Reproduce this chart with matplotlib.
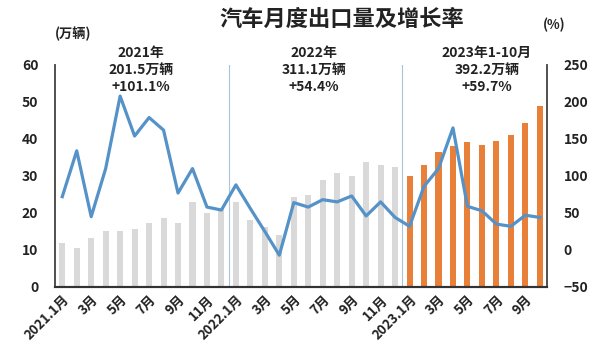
import matplotlib.pyplot as plt
import numpy as np

plt.rcParams['font.family'] = ['Noto Sans CJK SC', 'DejaVu Sans']
plt.rcParams['font.weight'] = 'bold'

# monthly exports (10k vehicles) and year-on-year growth (%)
vol_2021 = [12.0, 10.5, 13.2, 15.1, 15.1, 15.8, 17.4, 18.6, 17.2, 23.1, 20.0, 21.0]
vol_2022 = [23.1, 18.1, 16.3, 14.1, 24.4, 24.9, 28.9, 30.7, 30.1, 33.7, 33.0, 32.3]
vol_2023 = [30.1, 32.9, 36.4, 38.0, 39.2, 38.4, 39.4, 41.0, 44.4, 49.0]
growth = [72, 134, 45, 110, 208, 154, 179, 162, 77, 110, 58, 54,
          88, 56, 25, -7, 64, 58, 68, 65, 73, 46, 65, 44,
          32, 86, 110, 165, 59, 53, 35, 32, 47, 44]
tick_labels = ['2021.1月', '3月', '5月', '7月', '9月', '11月',
               '2022.1月', '3月', '5月', '7月', '9月', '11月',
               '2023.1月', '3月', '5月', '7月', '9月']
notes = [('2021年\n201.5万辆\n+101.1%', 5.45),
         ('2022年\n311.1万辆\n+54.4%', 17.4),
         ('2023年1-10月\n392.2万辆\n+59.7%', 29.35)]

vols = vol_2021 + vol_2022 + vol_2023
x = np.arange(len(vols))
n_old = len(vol_2021) + len(vol_2022)
colors = ['#d9d9d9'] * n_old + ['#e8803a'] * len(vol_2023)

fig = plt.figure(figsize=(6, 3.54), dpi=100)
ax = fig.add_axes([0.0917, 0.1893, 0.82, 0.6271])
ax.bar(x, vols, width=0.42, color=colors, zorder=2)
ax.set_xlim(-0.5, len(vols) - 0.5)
ax.set_ylim(0, 60)
ax.set_yticks(range(0, 61, 10))
ax.axvline(11.5, color='#a9c4d8', lw=0.8, zorder=1)
ax.axvline(23.5, color='#a9c4d8', lw=0.8, zorder=1)

ax2 = ax.twinx()
ax2.plot(x, growth, color='#5592c8', lw=2.3, zorder=3)
ax2.set_ylim(-50, 250)
ax2.set_yticks(range(-50, 251, 50))

ax.set_xticks(x[::2])
ax.set_xticklabels(tick_labels, rotation=45, ha='right', va='top',
                   rotation_mode='anchor', fontsize=9.5, color='#222222',
                   fontweight='bold')
ax.tick_params(axis='x', length=0, pad=4)
ax.tick_params(axis='y', length=0, pad=12, labelsize=10, labelcolor='#222222')
ax2.tick_params(axis='y', length=0, pad=12, labelsize=10, labelcolor='#222222')

for a in (ax, ax2):
    a.spines['top'].set_visible(False)
    for s in ('left', 'right'):
        a.spines[s].set_color('#505050')
        a.spines[s].set_linewidth(1.2)
    a.spines['bottom'].set_color('#333333')
    a.spines['bottom'].set_linewidth(1.5)

for txt, xpos in notes:
    ax.text(xpos, 58.6, txt, ha='center', va='center', fontsize=10,
            color='#222222', fontweight='bold', linespacing=1.25)

fig.text(0.57, 0.944, '汽车月度出口量及增长率', ha='center', va='center',
         fontsize=16, fontweight='bold', color='#222222')
fig.text(0.122, 0.905, '(万辆)', ha='center', va='center', fontsize=9.5,
         fontweight='bold', color='#222222')
fig.text(0.923, 0.93, '(%)', ha='center', va='center', fontsize=9.5,
         fontweight='bold', color='#222222')

fig.savefig('out.png', dpi=100)
